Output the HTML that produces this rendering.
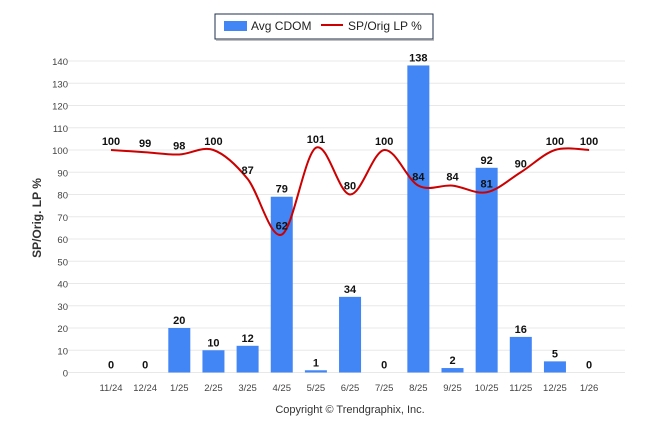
<!DOCTYPE html>
<html><head><meta charset="utf-8"><style>
body{margin:0;background:#fff;}
svg{display:block;font-family:"Liberation Sans",sans-serif;}
</style></head><body>
<svg id="c" width="646" height="434">
<g>
<rect x="215" y="14" width="218" height="25" fill="#fff" stroke="#1f2f4f" stroke-width="1"/>
<line x1="216" y1="40" x2="434" y2="40" stroke="#aaa" stroke-width="1.5"/>
<rect x="224" y="21" width="23" height="10" fill="#4285f4"/>
<text x="251" y="30" font-size="12" fill="#222">Avg CDOM</text>
<line x1="321" y1="25" x2="343" y2="25" stroke="#c00" stroke-width="2"/>
<text x="348" y="30" font-size="12" fill="#222">SP/Orig LP %</text>
</g>
<text transform="translate(41,218) rotate(-90)" text-anchor="middle" font-size="12" font-weight="bold" fill="#333">SP/Orig. LP %</text>
<text x="350" y="413" text-anchor="middle" font-size="11" fill="#333">Copyright © Trendgraphix, Inc.</text>
<g id="g"></g>
</svg>
<script>
const categories=["11/24","12/24","1/25","2/25","3/25","4/25","5/25","6/25","7/25","8/25","9/25","10/25","11/25","12/25","1/26"];
const cdom=[0,0,20,10,12,79,1,34,0,138,2,92,16,5,0];
const spOrig=[100,99,98,100,87,62,101,80,100,84,84,81,90,100,100];
const yTicks=[0,10,20,30,40,50,60,70,80,90,100,110,120,130,140];
const NS="http://www.w3.org/2000/svg";
const g=document.getElementById('g');
const x=i=>111+i*34.15;
const y=v=>372.5-v*2.225;
function mk(t,a,p){const e=document.createElementNS(NS,t);for(const k in a)e.setAttribute(k,a[k]);(p||g).appendChild(e);return e;}
yTicks.forEach(v=>{
 const l=mk('line',{x1:68,x2:625,y1:y(v),y2:y(v),stroke:'#e8e8e8','stroke-width':1});
 
 
 const t=mk('text',{x:68,y:y(v)+4,'text-anchor':'end','font-size':9.5,fill:'#444'});t.textContent=v;
 
 
});
categories.forEach((c,i)=>{
 const t=mk('text',{x:x(i),y:391,'text-anchor':'middle','font-size':9.5,fill:'#444'});t.textContent=c;
 
 
});
cdom.forEach((v,i)=>{
 const r=mk('rect',{x:x(i)-11,y:y(v),width:22,height:y(0)-y(v),fill:'#4285f4'});
 
 
});
const pts=spOrig.map((v,i)=>[x(i),y(v)]);
let d='M'+pts[0][0]+','+pts[0][1];
for(let i=0;i<pts.length-1;i++){
 const p0=pts[i-1]||pts[i],p1=pts[i],p2=pts[i+1],p3=pts[i+2]||p2;
 const k=6;
 d+=' C'+(p1[0]+(p2[0]-p0[0])/k)+','+(p1[1]+(p2[1]-p0[1])/k)+' '+(p2[0]-(p3[0]-p1[0])/k)+','+(p2[1]-(p3[1]-p1[1])/k)+' '+p2[0]+','+p2[1];
}
const ln=mk('path',{d:d,fill:'none',stroke:'#c00','stroke-width':2});


cdom.forEach((v,i)=>{
 const t=mk('text',{x:x(i),y:y(v)-4,'text-anchor':'middle','font-size':11,'font-weight':'bold',fill:'#111'});t.textContent=v;
 
 
});
spOrig.forEach((v,i)=>{
 const t=mk('text',{x:x(i),y:y(v)-5,'text-anchor':'middle','font-size':11,'font-weight':'bold',fill:'#111'});t.textContent=v;
 
 
});
</script>
</body></html>
